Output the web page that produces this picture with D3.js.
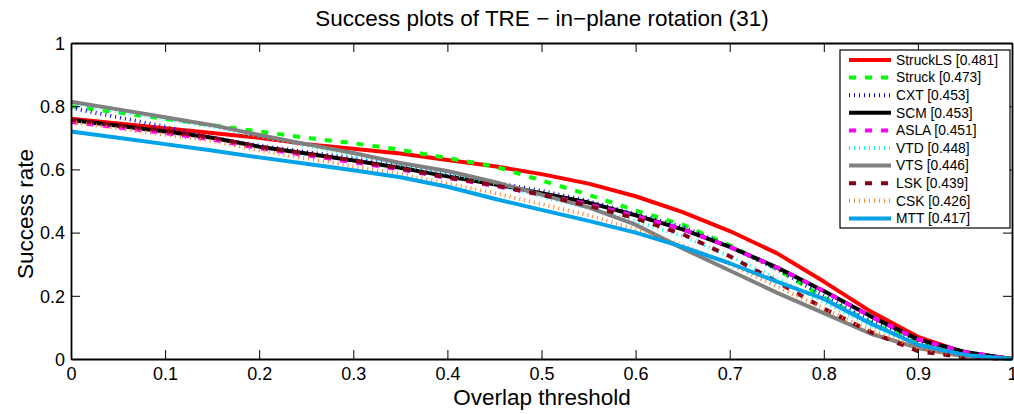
<!DOCTYPE html>
<html><head><meta charset="utf-8">
<script src="https://cdn.jsdelivr.net/npm/d3@7"></script>
<style>body{margin:0;background:#fff;} svg{display:block;font-family:"Liberation Sans",Arial,sans-serif;}</style>
</head><body><svg id="c" width="1014" height="414"></svg>
<script>
const thresholds = [0,0.05,0.1,0.15,0.2,0.25,0.3,0.35,0.4,0.45,0.5,0.55,0.6,0.65,0.7,0.75,0.8,0.85,0.9,0.95,1];
const trackers = ["StruckLS","Struck","CXT","SCM","ASLA","VTD","VTS","LSK","CSK","MTT"];
const scores = ["0.481","0.473","0.453","0.453","0.451","0.448","0.446","0.439","0.426","0.417"];
const colors = ["#ff0000","#00ff00","#0000ff","#000000","#ff00ff","#00ffff","#808080","#880015","#ff7f27","#00a2e8"];
const styles = ["solid","dashed","dotted","solid","dashed","dotted","solid","dashed","dotted","solid"];
const sStruckLS = [.76,.745,.73,.715,.70,.68,.665,.65,.63,.61,.585,.555,.515,.465,.405,.335,.245,.15,.07,.02,0];
const sStruck   = [.80,.78,.76,.74,.72,.70,.683,.662,.636,.61,.565,.52,.47,.425,.36,.285,.195,.115,.05,.015,0];
const sCXT      = [.795,.765,.735,.70,.675,.655,.635,.612,.585,.558,.532,.5,.458,.418,.355,.285,.2,.12,.055,.015,0];
const sSCM      = [.756,.738,.72,.70,.672,.65,.628,.605,.578,.553,.525,.495,.455,.41,.355,.29,.215,.135,.062,.022,0];
const sASLA     = [.75,.733,.715,.695,.667,.645,.623,.60,.573,.548,.52,.49,.452,.41,.355,.29,.215,.135,.062,.022,0];
const sVTD      = [.81,.785,.76,.735,.705,.675,.645,.615,.588,.555,.515,.478,.435,.39,.325,.255,.18,.105,.045,.012,0];
const sVTS      = [.814,.79,.765,.74,.709,.68,.652,.62,.595,.56,.52,.48,.425,.35,.28,.21,.145,.08,.035,.008,0];
const sLSK      = [.757,.74,.722,.70,.672,.65,.628,.603,.575,.55,.52,.485,.445,.395,.325,.245,.16,.085,.025,.005,0];
const sCSK      = [.75,.73,.71,.69,.66,.635,.61,.585,.555,.525,.49,.455,.41,.36,.30,.23,.16,.09,.035,.008,0];
const sMTT      = [.72,.70,.68,.66,.638,.618,.597,.575,.545,.507,.472,.437,.40,.355,.303,.245,.19,.112,.045,.013,0];
const seriesValues = [sStruckLS,sStruck,sCXT,sSCM,sASLA,sVTD,sVTS,sLSK,sCSK,sMTT];
const xTicks = [0,0.1,0.2,0.3,0.4,0.5,0.6,0.7,0.8,0.9,1];
const yTicks = [0,0.2,0.4,0.6,0.8,1];
const titleText = "Success plots of TRE \u2212 in\u2212plane rotation (31)";
const xLabel = "Overlap threshold";
const yLabel = "Success rate";

const svg = d3.select("#c");
const L = 71, R = 1012, T = 43, B = 359;
const x = d3.scaleLinear().domain([0,1]).range([L,R]);
const y = d3.scaleLinear().domain([0,1]).range([B,T]);
const dash = {solid:null, dashed:"7,9", dotted:"1,4"};

const g = svg.append("g");
const line = d3.line().x((d,i)=>x(thresholds[i])).y(d=>y(d));
seriesValues.forEach((vals,k)=>{
  g.append("path").attr("d", line(vals)).attr("fill","none")
   .attr("stroke", colors[k]).attr("stroke-width",4)
   .attr("stroke-dasharray", dash[styles[k]]).attr("stroke-linejoin","round");
});

// axes
const fmt = d => d===0?"0":(d===1?"1":String(d));
const xa = svg.append("g").attr("transform",`translate(0,${B})`)
  .call(d3.axisBottom(x).tickValues(xTicks).tickFormat(fmt).tickSizeInner(-9).tickSizeOuter(0).tickPadding(14));
const ya = svg.append("g").attr("transform",`translate(${L},0)`)
  .call(d3.axisLeft(y).tickValues(yTicks).tickFormat(fmt).tickSizeInner(-9).tickSizeOuter(0).tickPadding(6));
svg.append("g").attr("transform",`translate(0,${T})`)
  .call(d3.axisTop(x).tickValues(xTicks).tickFormat("").tickSizeInner(-9).tickSizeOuter(0));
svg.append("g").attr("transform",`translate(${R},0)`)
  .call(d3.axisRight(y).tickValues(yTicks).tickFormat("").tickSizeInner(-9).tickSizeOuter(0));
svg.selectAll(".domain").attr("stroke","#000").attr("stroke-width",1.8);
svg.selectAll(".tick line").attr("stroke","#000").attr("stroke-width",1);
svg.selectAll(".tick text").attr("font-size",18).attr("fill","#000").attr("font-family","Liberation Sans, Arial, sans-serif");
xa.selectAll(".tick text").attr("dy","0.4em");
ya.selectAll(".tick text").attr("dy","0.35em");

svg.append("text").attr("x",542).attr("y",26).attr("text-anchor","middle")
  .attr("font-size",22.5).text(titleText);
svg.append("text").attr("x",542).attr("y",405).attr("text-anchor","middle")
  .attr("font-size",22.5).text(xLabel);
svg.append("text").attr("transform",`translate(33,${(T+B)/2+13}) rotate(-90)`).attr("text-anchor","middle")
  .attr("font-size",22.5).text(yLabel);

// legend
const lg = svg.append("g");
lg.append("rect").attr("x",840).attr("y",50).attr("width",170).attr("height",178)
  .attr("fill","#fff").attr("stroke","#000").attr("stroke-width",1.2);
trackers.forEach((t,k)=>{
  const yy = 60 + k*17.6;
  lg.append("line").attr("x1",849).attr("x2",891).attr("y1",yy).attr("y2",yy)
    .attr("stroke",colors[k]).attr("stroke-width",4).attr("stroke-dasharray",dash[styles[k]]);
  lg.append("text").attr("x",896).attr("y",yy).attr("dy","0.35em").attr("font-size",13.8)
    .text(`${t} [${scores[k]}]`);
});
</script></body></html>
